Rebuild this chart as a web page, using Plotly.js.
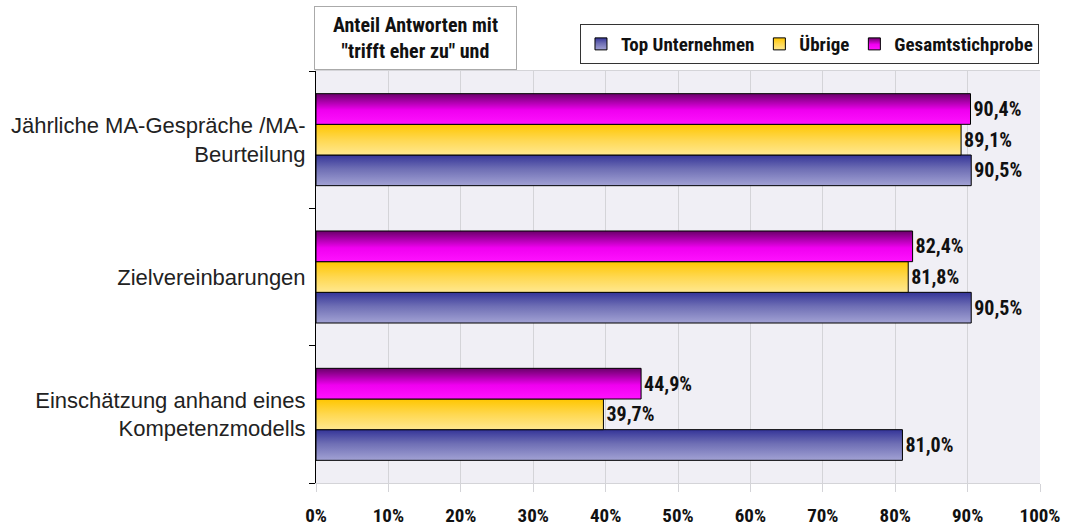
<!DOCTYPE html>
<html><head><meta charset="utf-8">
<script src="https://cdn.plot.ly/plotly-3.0.1.min.js"></script>
<style>body{margin:0;background:#fff}#chart{width:1067px;height:528px}</style>
</head><body><div id="chart"></div>
<script>
const categories = ["Jährliche MA-Gespräche /MA-<br>Beurteilung", "Zielvereinbarungen", "Einschätzung anhand eines<br>Kompetenzmodells"];
const seriesNames = ["Top Unternehmen", "Übrige", "Gesamtstichprobe"];
const topValues = [90.5, 90.5, 81.0];
const uebrigeValues = [89.1, 81.8, 39.7];
const gesamtValues = [90.4, 82.4, 44.9];
const xTickVals = [0,10,20,30,40,50,60,70,80,90,100];
const xTickText = ["0%","10%","20%","30%","40%","50%","60%","70%","80%","90%","100%"];
const noteText = "Anteil Antworten mit<br>\"trifft eher zu\" und";

const narrow = "Roboto Condensed, Liberation Sans Narrow, sans-serif";
const fmt = v => v.toFixed(1).replace('.', ',') + '%';
const colors = ["#6c6cb4", "#ffd84a", "#d000d0"];
const grads = [[[0,"#343498"],[0.45,"#6e6eb4"],[1,"#a2a2d4"]],
               [[0,"#ffc600"],[0.5,"#ffd850"],[1,"#ffe890"]],
               [[0,"#6a006a"],[0.55,"#f000f0"],[1,"#ff12ff"]]];

function trace(name, vals, i){
  return {type:'bar', orientation:'h', name:name, x:vals, y:categories,
    text: vals.map(fmt), textposition:'outside', cliponaxis:false,
    textfont:{family:narrow, size:20, color:'#111', weight:'bold'},
    marker:{color:colors[i], line:{color:'#000', width:1}}, hoverinfo:'x+name'};
}
const data = [trace(seriesNames[0], topValues, 0), trace(seriesNames[1], uebrigeValues, 1), trace(seriesNames[2], gesamtValues, 2)];

const layout = {
  width:1067, height:528, margin:{l:316, r:27, t:71, b:45},
  paper_bgcolor:'#fff', plot_bgcolor:'#f0eff5',
  barmode:'group', bargap:0.33, bargroupgap:0,
  showlegend:true,
  legend:{orientation:'h', x:0.3646, xanchor:'left', y:1.114, yanchor:'top',
    bgcolor:'#fff', bordercolor:'#333', borderwidth:1,
    font:{family:narrow, size:19, color:'#111', weight:'bold'},
    itemwidth:30, tracegroupgap:0},
  xaxis:{range:[0,100], tickvals:xTickVals, ticktext:xTickText, showgrid:true, gridcolor:'#d4d4d8', gridwidth:1,
    ticks:'outside', ticklen:8, tickcolor:'#d4d4d8', ticklabelstandoff:7,
    tickfont:{family:narrow, size:19, color:'#111', weight:'bold'},
    showline:true, linecolor:'#d4d4d8', mirror:true, zeroline:false, fixedrange:true},
  yaxis:{type:'category', categoryorder:'array', categoryarray:categories.slice().reverse(),
    ticks:'outside', tickson:'boundaries', ticklen:6, tickcolor:'#000', ticklabelstandoff:5,
    showline:true, linecolor:'#000', linewidth:1, showgrid:false,
    tickfont:{family:'Liberation Sans, Arial, sans-serif', size:22, color:'#222'}, fixedrange:true},
  annotations:[{xref:'paper', yref:'paper', x:-0.003, xanchor:'left', y:1.158, yanchor:'top',
    text:noteText, showarrow:false, align:'center',
    font:{family:narrow, size:20, color:'#111', weight:'bold'},
    bgcolor:'#fff', bordercolor:'#aaa', borderwidth:1, borderpad:6, width:189}]
};

Plotly.newPlot('chart', data, layout, {displayModeBar:false, staticPlot:true}).then(gd => {
  const svg = gd.querySelector('svg.main-svg');
  const ns = 'http://www.w3.org/2000/svg';
  let defs = svg.querySelector('defs');
  if(!defs){defs = document.createElementNS(ns,'defs'); svg.insertBefore(defs, svg.firstChild);}
  grads.forEach((g,i)=>{
    const lg = document.createElementNS(ns,'linearGradient');
    lg.setAttribute('id','bg'+i); lg.setAttribute('x1','0'); lg.setAttribute('y1','0'); lg.setAttribute('x2','0'); lg.setAttribute('y2','1');
    g.forEach(([o,c])=>{
      const s = document.createElementNS(ns,'stop'); s.setAttribute('offset',o); s.setAttribute('stop-color',c); lg.appendChild(s);
    });
    defs.appendChild(lg);
  });
  gd.querySelectorAll('.barlayer .trace').forEach((t,i)=>{
    t.querySelectorAll('path').forEach(p=>{p.style.fill='url(#bg'+i+')';});
  });
  gd.querySelectorAll('.legend .traces').forEach((t,i)=>{
    t.querySelectorAll('.legendpoints path').forEach(p=>{p.style.fill='url(#bg'+i+')';});
  });
});
</script></body></html>
